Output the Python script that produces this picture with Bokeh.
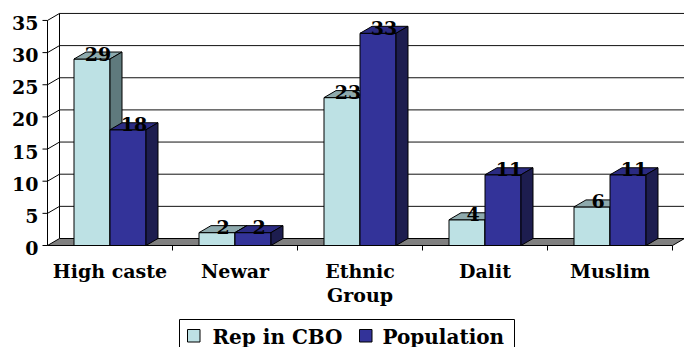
import numpy as np
from bokeh.plotting import figure
from bokeh.models import Range1d
from bokeh.core.properties import value
from bokeh.embed import file_html
from bokeh.resources import INLINE

# ---- data -------------------------------------------------------------
categories = ["High caste", "Newar", "Ethnic\nGroup", "Dalit", "Muslim"]
rep_in_cbo = [29, 2, 23, 4, 6]
population = [18, 2, 33, 11, 11]
y_ticks = [0, 5, 10, 15, 20, 25, 30, 35]
series_names = ["Rep in CBO", "Population"]

# ---- screen layout of the pseudo-3D box --------------------------------
W, H = 684, 347
X0_PX = 109.5      # pixel centre of the first category
CAT_PX = 125.0     # pixels per category slot
ZERO_PX = 245.0    # pixel row of value 0 on the front plane
UNIT_PX = 6.43     # pixels per value unit
DEPTH_X_PX, DEPTH_Y_PX = 12.0, 7.0
BAR_PX = 36.0


def xd(px):
    return (px - X0_PX) / CAT_PX


def yd(py):
    return (ZERO_PX - py) / UNIT_PX


DX = DEPTH_X_PX / CAT_PX
DY = DEPTH_Y_PX / UNIT_PX
BAR_W = BAR_PX / CAT_PX
YMAX = y_ticks[-1]
LEFT = -0.5
RIGHT = len(categories) - 0.5

FONT = value("DejaVu Serif")
FONT_SIZE = "19px"

# face colours: front, top, side
LIGHT = ("#bde1e4", "#8eaaad", "#5f7a7d")
DARK = ("#333399", "#2b2b82", "#1d1d4f")
FLOOR = "#808080"

p = figure(width=W, height=H,
           x_range=Range1d(xd(0), xd(W)), y_range=Range1d(yd(H), yd(0)),
           min_border=0, toolbar_location=None, output_backend="svg",
           x_axis_location=None, y_axis_location=None)
p.grid.visible = False
p.outline_line_color = None
p.background_fill_color = "white"
p.border_fill_color = "white"

x_end = p.x_range.end

# back wall grid lines and top edge
grid_vals = [v for v in y_ticks if v > 0]
p.segment(x0=[LEFT + DX] * len(grid_vals), y0=[v + DY for v in grid_vals],
          x1=[x_end] * len(grid_vals), y1=[v + DY for v in grid_vals],
          line_color="#111111", line_width=1)
# back wall left edge
p.segment(x0=[LEFT + DX], y0=[DY], x1=[LEFT + DX], y1=[YMAX + DY],
          line_color="black", line_width=1)
# side wall grid lines
p.segment(x0=[LEFT] * len(grid_vals), y0=grid_vals,
          x1=[LEFT + DX] * len(grid_vals), y1=[v + DY for v in grid_vals],
          line_color="black", line_width=1)

# floor
p.patch(x=[LEFT, RIGHT, RIGHT + DX, LEFT + DX], y=[0, 0, DY, DY],
        fill_color=FLOOR, line_color="black", line_width=1)

# front value axis with ticks
p.segment(x0=[LEFT], y0=[0], x1=[LEFT], y1=[YMAX], line_color="black", line_width=1)
tick_len = 5.0 / CAT_PX
p.segment(x0=[LEFT - tick_len] * len(y_ticks), y0=y_ticks,
          x1=[LEFT] * len(y_ticks), y1=y_ticks, line_color="black", line_width=1)
p.text(x=[xd(38)] * len(y_ticks), y=[v - 2.5 / UNIT_PX for v in y_ticks],
       text=[str(v) for v in y_ticks], text_align="right", text_baseline="middle",
       text_font=FONT, text_font_size=FONT_SIZE, text_font_style="bold",
       text_color="black")

# category ticks along the front floor edge
bounds = [LEFT + k for k in range(1, len(categories) + 1)]
p.segment(x0=bounds, y0=[0] * len(bounds), x1=bounds,
          y1=[-5.0 / UNIT_PX] * len(bounds), line_color="black", line_width=1)


def draw_series(vals, offset, colors):
    vals = np.asarray(vals, dtype=float)
    idx = np.arange(len(vals), dtype=float)
    left = idx + offset
    right = left + BAR_W
    p.quad(left=left, right=right, bottom=0, top=vals,
           fill_color=colors[0], line_color="black", line_width=1)
    top_xs = [[l, r, r + DX, l + DX] for l, r in zip(left, right)]
    top_ys = [[v, v, v + DY, v + DY] for v in vals]
    p.patches(xs=top_xs, ys=top_ys, fill_color=colors[1], line_color="black", line_width=1)
    side_xs = [[r, r + DX, r + DX, r] for r in right]
    side_ys = [[0, DY, v + DY, v] for v in vals]
    p.patches(xs=side_xs, ys=side_ys, fill_color=colors[2], line_color="black", line_width=1)
    return left + BAR_W / 2


rep_cx = draw_series(rep_in_cbo, -BAR_W, LIGHT)
pop_cx = draw_series(population, 0.0, DARK)

# value labels on the bar tops
for cx, vals in ((rep_cx, rep_in_cbo), (pop_cx, population)):
    p.text(x=list(cx + DX / 2), y=[v + 5.5 / UNIT_PX for v in vals],
           text=[str(v) for v in vals], text_align="center", text_baseline="middle",
           text_font=FONT, text_font_size=FONT_SIZE, text_font_style="bold",
           text_color="black")

# category labels (multi-line names split into rows)
lab_x, lab_y, lab_t = [], [], []
for i, name in enumerate(categories):
    for j, line in enumerate(name.split("\n")):
        lab_x.append(i)
        lab_y.append(yd(270 + 24 * j))
        lab_t.append(line)
p.text(x=lab_x, y=lab_y, text=lab_t, text_align="center", text_baseline="middle",
       text_font=FONT, text_font_size=FONT_SIZE, text_font_style="bold",
       text_color="black")

# legend box below the chart
p.quad(left=[xd(179)], right=[xd(514)], top=[yd(319)], bottom=[yd(H + 10)],
       fill_color="white", line_color="black", line_width=1)
swatch_left = [xd(187), xd(359)]
p.quad(left=swatch_left, right=[x + 12.5 / CAT_PX for x in swatch_left],
       top=[yd(329)] * 2, bottom=[yd(341.5)] * 2,
       fill_color=[LIGHT[0], DARK[0]], line_color="black", line_width=1)
p.text(x=[xd(212), xd(382)], y=[yd(336)] * 2, text=series_names,
       text_align="left", text_baseline="middle",
       text_font=FONT, text_font_size="20px", text_font_style="bold",
       text_color="black")

open("out.html", "w").write(file_html(p, INLINE))
